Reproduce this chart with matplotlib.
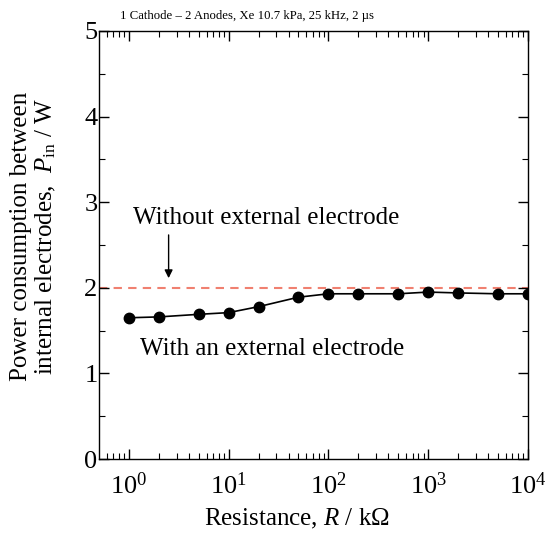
import matplotlib
matplotlib.use("Agg")
import matplotlib.pyplot as plt
from matplotlib.ticker import MultipleLocator, LogLocator

plt.rcParams['font.family'] = ['Liberation Serif', 'DejaVu Serif']
plt.rcParams['mathtext.fontset'] = 'custom'
plt.rcParams['mathtext.rm'] = 'Liberation Serif'
plt.rcParams['mathtext.it'] = 'Liberation Serif:italic'

# data
resistance = [1, 2, 5, 10, 20, 50, 100, 200, 500, 1000, 2000, 5000, 10000]
power_in = [1.65, 1.66, 1.69, 1.71, 1.78, 1.89, 1.93, 1.93, 1.93, 1.95, 1.94, 1.93, 1.93]
without_ext = 2.0

fig = plt.figure(figsize=(5.47, 5.40), dpi=100)
ax = fig.add_axes([0.181, 0.15, 0.784, 0.7926])

ax.axhline(without_ext, color='#f08070', ls=(0, (4, 3)), lw=1.5, zorder=1)
ax.plot(resistance, power_in, color='black', lw=1.2, marker='o', ms=7.5, zorder=3)

ax.set_xscale('log')
ax.set_xlim(10**-0.3, 1e4)
ax.set_ylim(0, 5)
ax.yaxis.set_major_locator(MultipleLocator(1))
ax.yaxis.set_minor_locator(MultipleLocator(0.5))
ax.xaxis.set_major_locator(LogLocator(base=10, numticks=10))
ax.xaxis.set_minor_locator(LogLocator(base=10, subs=range(2, 10), numticks=20))

ax.tick_params(which='both', direction='in', top=True, right=True)
ax.tick_params(which='major', length=7, width=1, labelsize=19)
ax.tick_params(which='minor', length=4, width=0.8)
ax.tick_params(axis='x', pad=10)
ax.tick_params(axis='y', pad=1)
for s in ax.spines.values():
    s.set_linewidth(1)

ax.set_xlabel(r'Resistance, $R$ / k$\Omega$', fontsize=18)
ax.xaxis.set_label_coords(0.4615, -0.112)
ax.set_ylabel('Power consumption between\ninternal electrodes,  $P_{\\rm in}$ / W',
              fontsize=18, linespacing=1.1)
ax.yaxis.set_label_coords(-0.095, 0.52)

ax.text(0.05, 1.022, '1 Cathode – 2 Anodes, Xe 10.7 kPa, 25 kHz, 2 µs',
        transform=ax.transAxes, fontsize=9.2, ha='left', va='bottom')

ax.text(1.1, 2.82, 'Without external electrode', fontsize=18, ha='left', va='center')
ax.annotate('', xy=(2.5, 2.08), xytext=(2.5, 2.65),
            arrowprops=dict(arrowstyle='-|>', color='black', lw=1, mutation_scale=12))
ax.text(1.29, 1.285, 'With an external electrode', fontsize=18, ha='left', va='center')

fig.savefig('out.png', dpi=100)
